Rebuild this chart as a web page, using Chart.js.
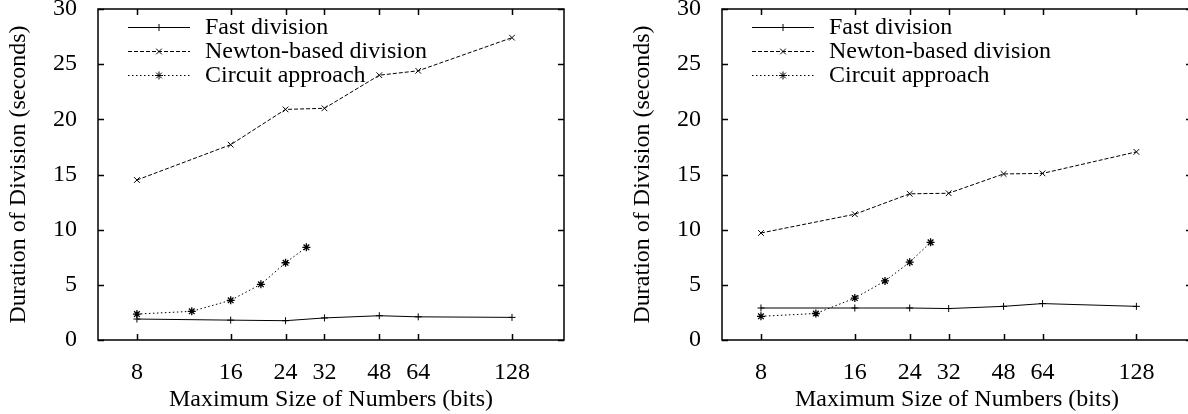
<!DOCTYPE html>
<html lang="en">
<head>
  <meta charset="UTF-8">
  <title>Duration of Division</title>
  <style>
    * { margin: 0; padding: 0; box-sizing: border-box; }
    body { background: #fff; width: 1188px; height: 414px; overflow: hidden; }
    .wrap { position: relative; width: 1188px; height: 414px; overflow: hidden; }
    .panel { position: absolute; top: 0; height: 414px; }
    #leftPanel { left: 0; width: 594px; }
    #rightPanel { left: 594px; width: 604px; }
  </style>
</head>
<body>
<div class="wrap">
  <div class="panel" id="leftPanel"><canvas id="leftChart" width="594" height="414"></canvas></div>
  <div class="panel" id="rightPanel"><canvas id="rightChart" width="604" height="414"></canvas></div>
</div>

<script src="https://cdn.jsdelivr.net/npm/chart.js"></script>
<script>
  // x values (bits) and tick labels
  const xTicks = [8, 16, 24, 32, 48, 64, 128];
  const sizesAll = [8, 16, 24, 32, 48, 64, 128];
  const sizesCircuit = [8, 12, 16, 20, 24, 28];

  // left panel (seconds)
  const leftFast = [1.9, 1.8, 1.75, 2.0, 2.2, 2.1, 2.05];
  const leftNewton = [14.5, 17.7, 20.9, 21.0, 24.0, 24.4, 27.4];
  const leftCircuit = [2.35, 2.6, 3.6, 5.05, 7.0, 8.4];

  // right panel (seconds)
  const rightFast = [2.9, 2.9, 2.9, 2.85, 3.05, 3.3, 3.05];
  const rightNewton = [9.7, 11.4, 13.25, 13.3, 15.05, 15.1, 17.05];
  const rightCircuit = [2.15, 2.4, 3.8, 5.35, 7.05, 8.85];

  const seriesNames = ['Fast division', 'Newton-based division', 'Circuit approach'];

  const FONT = { family: '"Liberation Serif", "Times New Roman", serif', size: 24 };
  const INK = '#000';

  const toPoints = (xs, ys) => xs.map((x, i) => ({ x: x, y: ys[i] }));

  // gnuplot style key in the top-left corner of the plot
  const keyPlugin = {
    id: 'keyPlugin',
    afterDatasetsDraw(chart) {
      const { ctx, chartArea: a } = chart;
      ctx.save();
      chart.data.datasets.forEach((ds, i) => {
        const y = Math.round(a.top + 18 + i * 24) + 0.5;
        const x0 = a.left + 30, x1 = a.left + 92;
        ctx.strokeStyle = INK;
        ctx.fillStyle = INK;
        ctx.lineWidth = 1;
        ctx.setLineDash(ds.borderDash || []);
        ctx.beginPath();
        ctx.moveTo(x0, y);
        ctx.lineTo(x1, y);
        ctx.stroke();
        ctx.setLineDash([]);
        Chart.helpers.drawPoint(ctx, {
          pointStyle: ds.pointStyle, radius: ds.pointRadius, rotation: 0, borderWidth: ds.pointBorderWidth
        }, (x0 + x1) / 2, y);
        ctx.font = FONT.size + 'px ' + FONT.family;
        ctx.textBaseline = 'middle';
        ctx.textAlign = 'left';
        ctx.fillText(ds.label, a.left + 107, y);
      });
      ctx.restore();
    }
  };

  // box round the plot with inward ticks on all four sides
  const framePlugin = {
    id: 'framePlugin',
    afterDraw(chart) {
      const { ctx, chartArea: a, scales } = chart;
      const tl = 6;
      ctx.save();
      ctx.strokeStyle = INK;
      ctx.lineWidth = 1.5;
      ctx.strokeRect(a.left, a.top, a.right - a.left, a.bottom - a.top);
      ctx.beginPath();
      scales.x.ticks.forEach(t => {
        const px = Math.round(scales.x.getPixelForValue(t.value)) + 0.5;
        ctx.moveTo(px, a.bottom); ctx.lineTo(px, a.bottom - tl);
        ctx.moveTo(px, a.top); ctx.lineTo(px, a.top + tl);
      });
      scales.y.ticks.forEach(t => {
        const py = Math.round(scales.y.getPixelForValue(t.value)) + 0.5;
        ctx.moveTo(a.left, py); ctx.lineTo(a.left + tl, py);
        ctx.moveTo(a.right, py); ctx.lineTo(a.right - tl, py);
      });
      ctx.stroke();
      ctx.restore();
    }
  };

  function makeChart(id, fast, newton, circuit, padding, xMax) {
    return new Chart(document.getElementById(id), {
      type: 'line',
      data: {
        datasets: [
          {
            label: seriesNames[0], data: toPoints(sizesAll, fast),
            borderColor: INK, backgroundColor: INK, borderWidth: 1,
            pointStyle: 'cross', pointRadius: 3.5, pointBorderWidth: 1
          },
          {
            label: seriesNames[1], data: toPoints(sizesAll, newton),
            borderColor: INK, backgroundColor: INK, borderWidth: 1, borderDash: [4, 2],
            pointStyle: 'crossRot', pointRadius: 4, pointBorderWidth: 1
          },
          {
            label: seriesNames[2], data: toPoints(sizesCircuit, circuit),
            borderColor: INK, backgroundColor: INK, borderWidth: 1, borderDash: [1.5, 2.5],
            pointStyle: 'star', pointRadius: 4, pointBorderWidth: 1.3
          }
        ]
      },
      options: {
        responsive: false,
        animation: false,
        devicePixelRatio: 1,
        layout: { padding: padding },
        plugins: { legend: { display: false }, tooltip: { enabled: false } },
        scales: {
          x: {
            type: 'logarithmic', min: 6, max: xMax,
            grid: { display: false },
            border: { display: false },
            ticks: {
              color: INK, font: FONT, padding: 10, autoSkip: false, maxRotation: 0,
              callback: v => String(v)
            },
            afterBuildTicks: s => { s.ticks = xTicks.map(v => ({ value: v })); },
            afterFit: s => { s.height = 74; s.paddingLeft = 0; s.paddingRight = 0; },
            title: {
              display: true, text: 'Maximum Size of Numbers (bits)',
              color: INK, font: FONT, padding: { top: 0, bottom: 0 }
            }
          },
          y: {
            min: 0, max: 30,
            grid: { display: false },
            border: { display: false },
            ticks: {
              stepSize: 5, color: INK, padding: 13,
              font: { family: FONT.family, size: FONT.size, lineHeight: 0.7 }
            },
            afterFit: s => { s.width = 98; s.paddingTop = 0; s.paddingBottom = 0; },
            title: {
              display: true, text: 'Duration of Division (seconds)',
              color: INK, font: FONT, padding: { top: 4, bottom: 0 }
            }
          }
        }
      },
      plugins: [keyPlugin, framePlugin]
    });
  }

  makeChart('leftChart', leftFast, leftNewton, leftCircuit,
    { left: 0, right: 30, top: 9, bottom: 0 }, 188);
  makeChart('rightChart', rightFast, rightNewton, rightCircuit,
    { left: 30, right: 6, top: 9, bottom: 0 }, 193);
</script>
</body>
</html>
